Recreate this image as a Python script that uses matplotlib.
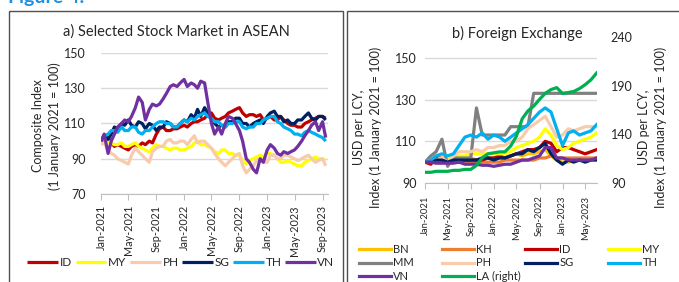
import matplotlib.pyplot as plt
import matplotlib.dates as mdates
from matplotlib.patches import Rectangle
import pandas as pd

plt.rcParams['font.family'] = ['Lato', 'DejaVu Sans']

# ---- panel a: stock markets, semi-monthly readings (1st and 15th), Jan-2021 .. Sep-2023
stock_dates = pd.date_range('2021-01-01', periods=66, freq='SMS')
stock_id = [100, 101, 102, 99, 97, 98, 97, 96, 95, 97, 98, 97,
            99, 98, 100, 99, 104, 107, 108, 106, 106, 107, 107, 108,
            109, 108, 110, 111, 111, 112, 113, 115, 116, 113, 112, 113,
            114, 116, 117, 118, 119, 116, 114, 115, 115, 114, 115, 112,
            113, 114, 112, 112, 114, 112, 110, 109, 109, 108, 108, 110,
            111, 112, 113, 114, 114, 113]
stock_my = [100, 102, 100, 99, 98, 98, 99, 97, 97, 98, 99, 97,
            96, 95, 94, 96, 98, 97, 97, 96, 95, 96, 96, 95,
            95, 96, 97, 99, 100, 98, 98, 97, 96, 94, 93, 95,
            95, 93, 93, 92, 92, 89, 87, 89, 90, 91, 92, 91,
            93, 93, 92, 90, 88, 88, 89, 88, 87, 86, 86, 88,
            89, 90, 91, 90, 90, 89]
stock_ph = [98, 99, 95, 93, 92, 90, 89, 88, 87, 92, 96, 94,
            92, 90, 88, 94, 96, 97, 97, 100, 101, 99, 99, 100,
            100, 98, 101, 103, 99, 100, 100, 98, 96, 93, 90, 88,
            86, 88, 90, 92, 93, 86, 82, 84, 86, 89, 90, 88,
            88, 92, 92, 90, 90, 92, 92, 91, 90, 89, 90, 91,
            92, 90, 88, 89, 90, 86]
stock_sg = [100, 103, 101, 104, 108, 107, 110, 109, 112, 109, 108, 111,
            110, 107, 110, 109, 106, 108, 108, 111, 110, 108, 108, 110,
            112, 111, 115, 113, 118, 114, 119, 116, 113, 110, 108, 109,
            108, 111, 111, 113, 113, 110, 110, 108, 110, 111, 112, 110,
            114, 116, 117, 114, 114, 111, 112, 110, 110, 112, 112, 114,
            116, 113, 112, 114, 114, 112]
stock_th = [100, 103, 104, 106, 106, 105, 108, 106, 106, 108, 108, 105,
            104, 106, 106, 108, 110, 111, 111, 110, 110, 108, 108, 110,
            112, 111, 113, 112, 114, 115, 116, 114, 113, 111, 111, 109,
            108, 110, 110, 111, 111, 108, 107, 108, 108, 110, 110, 112,
            113, 114, 114, 111, 110, 108, 107, 106, 104, 104, 103, 105,
            106, 105, 104, 103, 102, 100]
stock_vn = [100, 104, 93, 100, 104, 108, 110, 112, 111, 114, 119, 125,
            122, 112, 118, 121, 120, 121, 124, 127, 131, 132, 131, 133,
            135, 131, 133, 132, 130, 134, 133, 122, 110, 104, 108, 104,
            110, 114, 113, 110, 106, 100, 90, 88, 84, 82, 90, 88,
            95, 98, 96, 93, 92, 94, 93, 94, 95, 97, 100, 103,
            106, 109, 111, 106, 111, 102]

# ---- panel b: foreign exchange, monthly readings Jan-2021 .. Jul-2023
fx_dates = pd.date_range('2021-01-01', periods=31, freq='MS')
fx_bn = [100, 100, 101, 100, 100, 101, 101, 102, 102, 101, 101, 102,
         102, 102, 102, 103, 104, 103, 104, 104, 105, 106, 103, 101,
         100, 100, 101, 101, 101, 101, 102]
fx_kh = [100, 100, 100, 100, 100, 100, 100, 100, 100, 100, 100, 100,
         100, 100, 101, 101, 101, 101, 101, 101, 102, 102, 103, 102,
         102, 102, 102, 102, 102, 102, 102]
fx_id = [100, 99, 102, 102, 101, 102, 102, 101, 101, 101, 101, 102,
         102, 103, 102, 103, 104, 105, 106, 106, 107, 110, 109, 105,
         107, 107, 106, 105, 104, 105, 106]
fx_my = [100, 100, 101, 102, 102, 103, 103, 103, 104, 104, 104, 104,
         104, 104, 104, 105, 107, 108, 109, 110, 112, 116, 113, 108,
         106, 107, 109, 110, 111, 112, 114]
fx_mm = [100, 103, 105, 111, 98, 102, 102, 102, 102, 126, 113, 113,
         113, 113, 113, 117, 117, 117, 117, 133, 133, 133, 133, 133,
         133, 133, 133, 133, 133, 133, 133]
fx_ph = [100, 101, 101, 102, 100, 103, 105, 105, 105, 106, 105, 107,
         107, 108, 108, 110, 110, 112, 116, 118, 120, 122, 117, 112,
         113, 116, 115, 116, 117, 117, 117]
fx_sg = [100, 100, 101, 101, 100, 101, 101, 101, 101, 101, 102, 102,
         101, 102, 102, 103, 104, 104, 106, 105, 107, 109, 104, 101,
         99, 101, 100, 101, 100, 101, 101]
fx_th = [100, 101, 103, 104, 103, 104, 108, 112, 113, 112, 114, 111,
         113, 112, 110, 112, 114, 116, 118, 121, 124, 126, 124, 116,
         108, 114, 115, 113, 114, 115, 118]
fx_vn = [100, 100, 99.5, 99.5, 99.5, 99.5, 100, 99, 99, 99, 98.5, 98.5,
         98, 98.5, 99, 99, 100, 101, 101, 102, 103, 107, 107, 102,
         102, 101, 101, 101, 101, 101, 102]
fx_la = [101, 101, 102, 102, 102, 103, 103, 104, 104, 108, 116, 120,
         121, 122, 122, 128, 138, 156, 164, 169, 176, 182, 186, 188,
         182, 183, 184, 187, 191, 196, 203]

C = {'BN': '#FFC000', 'KH': '#ED7D31', 'ID': '#C00000', 'MY': '#FFFF00',
     'MM': '#808080', 'PH': '#F8CBAD', 'SG': '#002060', 'TH': '#00B0F0',
     'VN': '#7030A0', 'LA': '#00B050'}
TXT = '#262626'
LW = 2.3

W, H = 679, 282
fig = plt.figure(figsize=(W / 100, H / 100), dpi=100)


def fx(px):
    return px / W


def fy(py):
    return 1 - py / H


def style_axis(ax, ticks, xmax, datesize):
    ax.set_xlim(pd.Timestamp('2021-01-01'), pd.Timestamp(xmax))
    ax.set_xticks(ticks)
    ax.xaxis.set_major_formatter(mdates.DateFormatter('%b-%Y'))
    ax.tick_params(axis='x', rotation=90, labelsize=datesize, colors='#BFBFBF',
                   labelcolor=TXT, length=4, pad=3)
    ax.tick_params(axis='y', length=0, labelsize=9, labelcolor=TXT)
    for s in ['top', 'left', 'right']:
        ax.spines[s].set_visible(False)
    ax.spines['bottom'].set_color('#BFBFBF')
    ax.grid(axis='y', color='#D9D9D9', lw=1)
    ax.set_axisbelow(True)


# boxes around the two charts
fig.patches.append(Rectangle((fx(9), fy(300)), fx(343) - fx(9), fy(11) - fy(300),
                             transform=fig.transFigure, fill=False, ec='#505050', lw=1))
fig.patches.append(Rectangle((fx(347), fy(300)), fx(700) - fx(347), fy(11) - fy(300),
                             transform=fig.transFigure, fill=False, ec='#505050', lw=1))
# page heading, cut off at the top edge as in the source crop
fig.text(fx(8), fy(2.5), 'Figure 4:', color='#1E8FE1', fontsize=14, fontweight='bold',
         va='baseline', ha='left')

# ---------------- panel a
ax1 = fig.add_axes([fx(101), fy(194), fx(328) - fx(101), fy(53) - fy(194)])
stock = [('ID', stock_id), ('MY', stock_my), ('PH', stock_ph),
         ('SG', stock_sg), ('TH', stock_th), ('VN', stock_vn)]
for name, vals in stock:
    ax1.plot(stock_dates, vals, color=C[name], lw=LW, label=name, solid_capstyle='butt')
ax1.set_ylim(70, 150)
ax1.set_yticks([70, 90, 110, 130, 150])
style_axis(ax1, pd.date_range('2021-01-01', '2023-09-01', freq='4MS'), '2023-09-25', 7.8)
ax1.tick_params(axis='y', pad=11)
ax1.tick_params(axis='x', pad=4)
fig.text(fx(176), fy(32), 'a) Selected Stock Market in ASEAN', fontsize=10.5,
         ha='center', va='center', color=TXT)
fig.text(fx(46.5), fy(126), 'Composite Index\n(1 January 2021 = 100)', rotation=90,
         fontsize=9, ha='center', va='center', multialignment='center',
         linespacing=1.35, color=TXT)
fig.legend(handles=ax1.get_lines(), loc='center', bbox_to_anchor=(fx(181), fy(263)),
           ncol=6, frameon=False, fontsize=8.5, handlelength=2.6, handletextpad=0.15,
           columnspacing=0.3, borderpad=0, labelcolor=TXT)

# ---------------- panel b
ax2 = fig.add_axes([fx(425), fy(183), fx(597) - fx(425), fy(37) - fy(183)])
fx_left = [('BN', fx_bn), ('KH', fx_kh), ('ID', fx_id), ('MY', fx_my), ('MM', fx_mm),
           ('PH', fx_ph), ('SG', fx_sg), ('TH', fx_th), ('VN', fx_vn)]
handles = {}
for name, vals in fx_left:
    handles[name], = ax2.plot(fx_dates, vals, color=C[name], lw=LW, label=name)
ax2.set_ylim(90, 160)
ax2.set_yticks([90, 110, 130, 150])
style_axis(ax2, pd.date_range('2021-01-01', '2023-05-01', freq='4MS'), '2023-07-03', 6.8)
ax2.tick_params(axis='y', pad=6)
ax2.tick_params(axis='x', pad=5)

ax3 = ax2.twinx()
handles['LA'], = ax3.plot(fx_dates, fx_la, color=C['LA'], lw=LW, label='LA (right)')
ax3.set_ylim(90, 240)
ax3.set_yticks([90, 140, 190, 240])
ax3.tick_params(axis='y', length=0, labelsize=9, labelcolor=TXT, pad=10)
for s in ['top', 'left', 'right', 'bottom']:
    ax3.spines[s].set_visible(False)

fig.text(fx(517), fy(33), 'b) Foreign Exchange', fontsize=10.5, ha='center',
         va='center', color=TXT)
fig.text(fx(367.5), fy(127), 'USD per LCY,\nIndex (1 January 2021 = 100)', rotation=90,
         fontsize=9, ha='center', va='center', multialignment='center',
         linespacing=1.45, color=TXT)
fig.text(fx(652.5), fy(127), 'USD per LCY,\nIndex (1 January 2021 = 100)', rotation=90,
         fontsize=9, ha='center', va='center', multialignment='center',
         linespacing=1.45, color=TXT)

# legend laid out row by row in four fixed columns
columns = [['BN', 'MM', 'VN'], ['KH', 'PH', 'LA'], ['ID', 'SG'], ['MY', 'TH']]
col_x = [359, 442, 525, 608]
for names, x0 in zip(columns, col_x):
    hs = [handles[n] for n in names]
    fig.legend(handles=hs, labels=[h.get_label() for h in hs], loc='upper left',
               bbox_to_anchor=(fx(x0), fy(244)), frameon=False, fontsize=8,
               handlelength=2.9, handletextpad=0.2, labelspacing=0.22,
               borderpad=0, borderaxespad=0, labelcolor=TXT)

fig.savefig('out.png', dpi=100)
